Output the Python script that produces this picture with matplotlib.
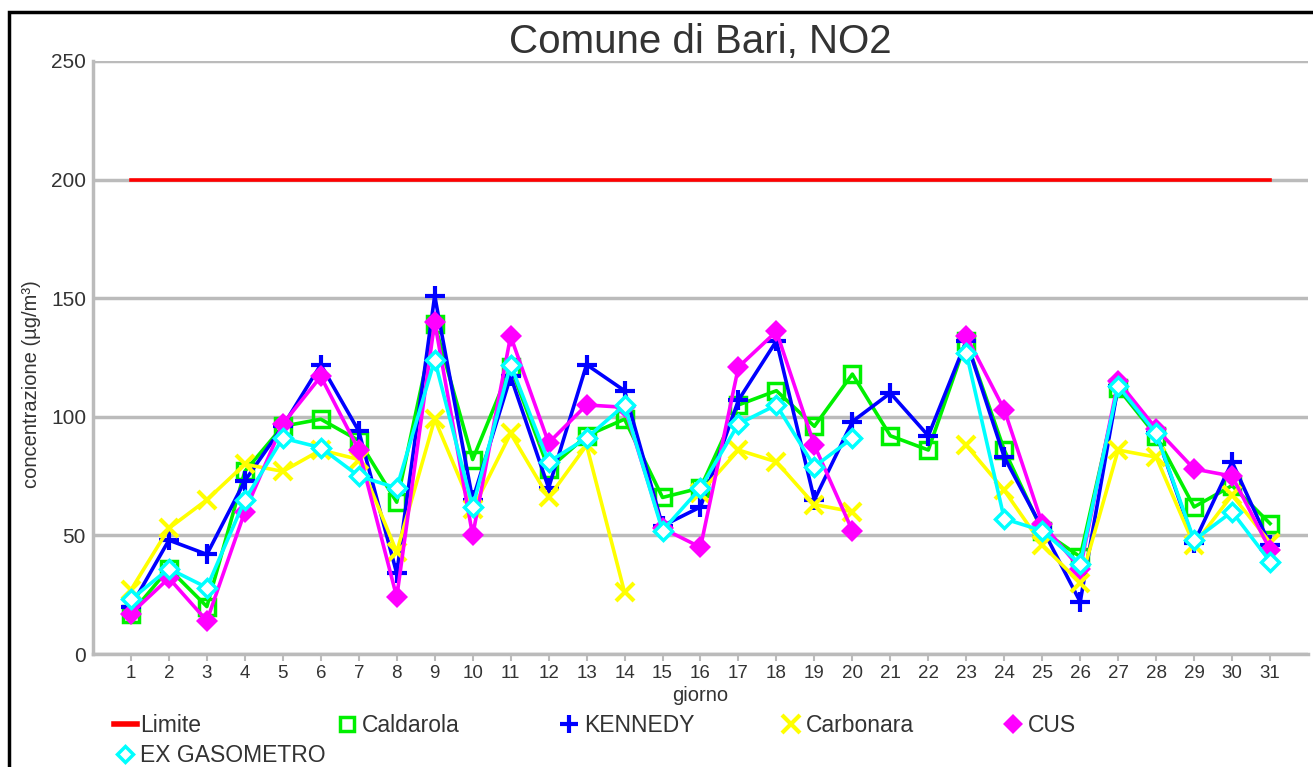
"""
Comune di Bari, NO2 - concentrazioni giornaliere per stazione
"""

import numpy as np
import matplotlib

matplotlib.use("Agg")
import matplotlib.pyplot as plt
from matplotlib.lines import Line2D
from matplotlib.patches import Rectangle

nan = np.nan

giorni = list(range(1, 32))

limite = [200] * 31

caldarola = [17, 36, 20, 77, 96, 99, 90, 64, 139, 82, 121, 78, 92, 99, 66, 70,
             105, 111, 96, 118, 92, 86, 132, 86, 52, 41, 112, 92, 62, 71, 55]

kennedy = [20, 48, 42, 73, 96, 122, 94, 34, 151, 65, 117, 70, 122, 111, 54, 62,
           107, 132, 65, 98, 110, 92, 132, 83, 53, 22, 113, 93, 47, 81, 46]

carbonara = [27, 53, 65, 80, 77, 86, 82, 43, 99, 61, 93, 66, 88, 26, nan, 68,
             86, 81, 63, 60, nan, nan, 88, 69, 46, 30, 86, 83, 46, 67, 47]

cus = [17, 32, 14, 60, 97, 117, 86, 24, 140, 50, 134, 89, 105, 104, 53, 45,
       121, 136, 88, 52, nan, nan, 134, 103, 55, 36, 115, 95, 78, 75, 44]

ex_gasometro = [23, 36, 28, 65, 91, 87, 75, 70, 124, 62, 122, 81, 91, 105, 52, 70,
                97, 105, 79, 91, nan, nan, 127, 57, 52, 38, 113, 93, 48, 60, 39]

serie = [
    ("Limite", limite, "#FF0000", None, {}),
    ("Caldarola", caldarola, "#00F000", "s", {"markerfacecolor": "none", "markeredgewidth": 2.5, "markersize": 11}),
    ("KENNEDY", kennedy, "#0000FF", "+", {"markeredgewidth": 3, "markersize": 14}),
    ("Carbonara", carbonara, "#FFFF00", "x", {"markeredgewidth": 3, "markersize": 13}),
    ("CUS", cus, "#FF00FF", "D", {"markeredgewidth": 0, "markersize": 11}),
    ("EX GASOMETRO", ex_gasometro, "#00FFFF", "D", {"markerfacecolor": "white", "markeredgewidth": 2.5, "markersize": 9}),
]

plt.rcParams["font.family"] = ["Liberation Sans", "DejaVu Sans"]
textColor = "#333333"
gridColor = "#BBBBBB"

fig = plt.figure(figsize=(13.13, 7.67), dpi=100)
ax = fig.add_axes([0.0708, 0.1473, 0.9254, 0.7732])

handles = []
for nome, valori, colore, marker, kw in serie:
    line, = ax.plot(giorni, valori, color=colore, lw=2.6, marker=marker,
                    markeredgecolor=colore, label=nome, clip_on=False, **kw)
    handles.append(line)

ax.set_xlim(0, 32)
ax.set_ylim(0, 250)
ax.set_xticks(giorni)
ax.set_yticks([0, 50, 100, 150, 200, 250])
ax.yaxis.grid(True, color=gridColor, lw=2.5)
ax.set_axisbelow(True)
for s in ["top", "right"]:
    ax.spines[s].set_visible(False)
for s in ["left", "bottom"]:
    ax.spines[s].set_color(gridColor)
    ax.spines[s].set_linewidth(2.5)
ax.tick_params(axis="x", length=5, width=1.5, color=gridColor, labelsize=13.5,
               labelcolor=textColor, pad=3)
ax.tick_params(axis="y", length=0, labelsize=15, labelcolor=textColor, pad=5)

ax.set_title("Comune di Bari, NO2", fontsize=29, color=textColor, pad=5)
ax.set_xlabel("giorno", fontsize=14.5, color=textColor, labelpad=3)
ax.set_ylabel("concentrazione (µg/m³)", fontsize=14.5, color=textColor)
ax.yaxis.set_label_coords(-0.0425, 0.455)

# legenda: una voce per posizione, come nell'originale
legendPos = [(0.078, 0.054), (0.247, 0.054), (0.416, 0.054),
             (0.585, 0.054), (0.754, 0.054), (0.078, 0.0155)]
for h, (lx, ly) in zip(handles, legendPos):
    proxy = Line2D([], [], color=h.get_color(), lw=4 if h.get_marker() in (None, "None") else 0,
                   marker=h.get_marker(), markersize=h.get_markersize() * 0.95,
                   markeredgewidth=h.get_markeredgewidth(),
                   markerfacecolor=h.get_markerfacecolor(),
                   markeredgecolor=h.get_markeredgecolor())
    fig.legend(handles=[proxy], labels=[h.get_label()], loc="center left",
               bbox_to_anchor=(lx, ly), frameon=False, fontsize=16.5,
               handlelength=1.0, handletextpad=0.15, borderpad=0, labelcolor=textColor)

# cornice nera del grafico
fig.patches.append(Rectangle((0.0065, -0.1), 1.1, 1.084, transform=fig.transFigure,
                             fill=False, edgecolor="black", lw=2.5))

fig.savefig("out.png", dpi=100)
